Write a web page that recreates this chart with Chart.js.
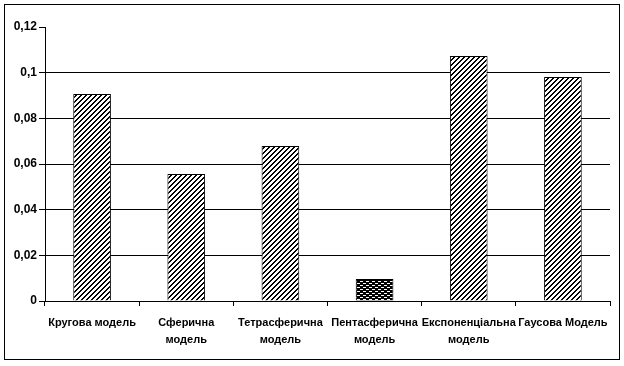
<!DOCTYPE html>
<html>
<head>
<meta charset="utf-8">
<script src="https://cdn.jsdelivr.net/npm/chart.js@4/dist/chart.umd.min.js"></script>
<style>
  html, body { margin: 0; padding: 0; background: #fff; }
  #wrap { width: 624px; height: 366px; position: relative; }
</style>
</head>
<body>
<div id="wrap"><canvas id="chart" width="624" height="366"></canvas></div>
<script>
// дані з рисунка
const models = [
  ['Кругова модель'],
  ['Сферична', 'модель'],
  ['Тетрасферична', 'модель'],
  ['Пентасферична', 'модель'],
  ['Експоненціальна', 'модель'],
  ['Гаусова Модель']
];
const values = [0.0907, 0.0556, 0.0679, 0.0096, 0.1073, 0.0981];
const yTicks = [0, 0.02, 0.04, 0.06, 0.08, 0.1, 0.12];
const fillKinds = ['hatch', 'hatch', 'hatch', 'brick', 'hatch', 'hatch'];

// штрихування
function makePattern(kind) {
  const c = document.createElement('canvas');
  const g = c.getContext('2d');
  if (kind === 'hatch') {
    c.width = 5; c.height = 5;
    g.fillStyle = '#fff'; g.fillRect(0, 0, 5, 5);
    g.fillStyle = '#000';
    for (let x = 0; x < 5; x++) {
      for (let y = 0; y < 5; y++) {
        if ((x + y) % 5 < 2) g.fillRect(x, y, 1, 1);
      }
    }
  } else {
    c.width = 6; c.height = 4;
    g.fillStyle = '#000'; g.fillRect(0, 0, 6, 4);
    g.fillStyle = '#fff';
    g.fillRect(0, 1, 3, 1);
    g.fillRect(3, 3, 3, 1);
  }
  return document.getElementById('chart').getContext('2d').createPattern(c, 'repeat');
}
const fills = fillKinds.map(makePattern);

const frame = {
  id: 'frame',
  afterDraw(chart) {
    const ctx = chart.ctx;
    ctx.save();
    ctx.strokeStyle = '#000';
    ctx.lineWidth = 1;
    ctx.strokeRect(4.5, 4.5, 615, 355);
    ctx.restore();
  }
};

const xFont = { family: 'Liberation Sans, Arial, sans-serif', size: 11, weight: 'bold', lineHeight: 1.5 };
const yFont = { family: 'Liberation Sans, Arial, sans-serif', size: 12, weight: 'bold' };

new Chart(document.getElementById('chart'), {
  type: 'bar',
  data: {
    labels: models,
    datasets: [{
      data: values,
      backgroundColor: fills,
      borderColor: '#000',
      borderWidth: 1,
      borderSkipped: 'bottom',
      categoryPercentage: 1,
      barPercentage: 0.4
    }]
  },
  options: {
    responsive: false,
    animation: false,
    devicePixelRatio: 1,
    layout: { padding: { left: 0, top: 27, right: 14, bottom: 0 } },
    plugins: { legend: { display: false }, tooltip: { enabled: false } },
    scales: {
      x: {
        afterFit: s => { s.height = 65; },
        grid: { drawOnChartArea: false, drawTicks: true, tickLength: 5, color: '#000', offset: true },
        border: { color: '#000', width: 1 },
        ticks: { color: '#000', font: xFont, padding: 9, maxRotation: 0, autoSkip: false }
      },
      y: {
        min: 0, max: 0.12,
        afterFit: s => { s.width = 45; },
        afterBuildTicks: s => { s.ticks = yTicks.map(v => ({ value: v })); },
        grid: {
          color: c => (c.tick && c.tick.value >= 0.12) ? 'rgba(0,0,0,0)' : '#000',
          tickColor: '#000',
          tickLength: 6
        },
        border: { color: '#000', width: 1 },
        ticks: {
          color: '#000', font: yFont, padding: 2,
          callback: v => String(v).replace('.', ',')
        }
      }
    }
  },
  plugins: [frame]
});
</script>
</body>
</html>
